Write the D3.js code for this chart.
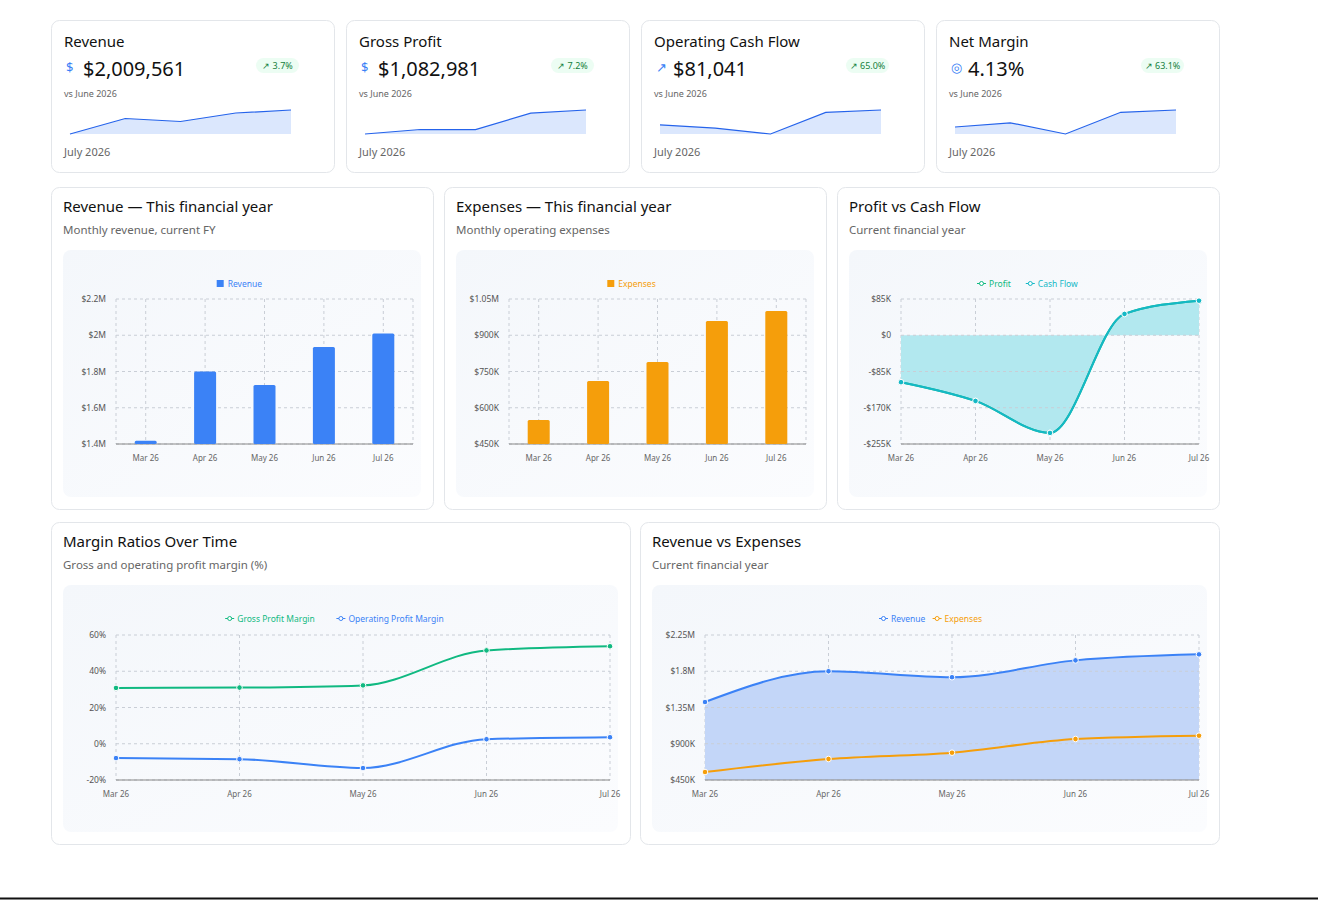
<!DOCTYPE html><html><head><meta charset="utf-8">
<script src="https://cdn.jsdelivr.net/npm/d3@7"></script>
<style>body{margin:0;background:#fff;font-family:"Noto Sans","Open Sans",sans-serif}</style></head><body>
<svg id="c" width="1318" height="900"></svg>
<script>
const months=["Mar 26","Apr 26","May 26","Jun 26","Jul 26"];
const revenue=[1418000,1800000,1726000,1935000,2009561];
const expenses=[549000,711000,789000,959000,1000000];
const cashFlow=[-110000,-154000,-229000,50000,81041];
const profit=[-110000,-154000,-229000,50000,81041];
const grossMargin=[30.8,31.0,32.2,51.5,53.8];
const opMargin=[-7.9,-8.5,-13.4,2.5,3.6];
const grossProfit=[437000,558000,556000,997000,1082981];
const netMargin=[-8,-5,-13,2.5,4.13];
const revTicks=["$1.4M","$1.6M","$1.8M","$2M","$2.2M"];
const expTicks=["$450K","$600K","$750K","$900K","$1.05M"];
const cfTicks=["-$255K","-$170K","-$85K","$0","$85K"];
const marTicks=["-20%","0%","20%","40%","60%"];
const rveTicks=["$450K","$900K","$1.35M","$1.8M","$2.25M"];
const kpis=[
 {t:"Revenue",v:"$2,009,561",ch:"3.7%",icon:"$",data:revenue},
 {t:"Gross Profit",v:"$1,082,981",ch:"7.2%",icon:"$",data:grossProfit},
 {t:"Operating Cash Flow",v:"$81,041",ch:"65.0%",icon:"↗",data:cashFlow},
 {t:"Net Margin",v:"4.13%",ch:"63.1%",icon:"◎",data:netMargin}];
const svg=d3.select("#c");
const defs=svg.append("defs");
const lg=defs.append("linearGradient").attr("id","pbg").attr("x1",0).attr("y1",0).attr("x2",1).attr("y2",1);
lg.append("stop").attr("offset","0").attr("stop-color","#f4f7fb");lg.append("stop").attr("offset","1").attr("stop-color","#fbfcfe");
svg.append("line").attr("x1",0).attr("x2",1318).attr("y1",898.5).attr("y2",898.5).attr("stroke","#111").attr("stroke-width",2);
function card(x,y,w,h){svg.append("rect").attr("x",x+.5).attr("y",y+.5).attr("width",w).attr("height",h).attr("rx",8).attr("fill","#fff").attr("stroke","#e3e6ea");}
kpis.forEach((k,i)=>{const x=51+i*295,y=20;card(x,y,283,152);
 const g=svg.append("g").attr("transform",`translate(${x},${y})`);
 g.append("text").attr("x",13).attr("y",27).attr("font-size",15).attr("font-weight",400).attr("fill","#111").text(k.t);
 g.append("text").attr("x",15).attr("y",52).attr("font-size",13).attr("fill","#3b82f6").text(k.icon);
 g.append("text").attr("x",32).attr("y",56).attr("font-size",20).attr("font-weight",400).attr("fill","#111").text(k.v);
 g.append("rect").attr("x",205).attr("y",38).attr("width",43).attr("height",15).attr("rx",7.5).attr("fill","#ecfdf3");
 g.append("text").attr("x",226.5).attr("y",49).attr("text-anchor","middle").attr("font-size",9).attr("fill","#15803d").text("↗ "+k.ch);
 g.append("text").attr("x",13).attr("y",77).attr("font-size",9).attr("fill","#666").text("vs June 2026");
 g.append("text").attr("x",13).attr("y",136).attr("font-size",11).attr("fill","#666").text("July 2026");
 const sx=d3.scalePoint().domain(months).range([19,240]);
 const sy=d3.scaleLinear().domain(d3.extent(k.data)).range([114,90]);
 g.append("path").datum(k.data).attr("fill","#dbe7fd").attr("d",d3.area().x((d,j)=>sx(months[j])).y0(114).y1(d=>sy(d)));
 g.append("path").datum(k.data).attr("fill","none").attr("stroke","#2563eb").attr("stroke-width",1.2).attr("d",d3.line().x((d,j)=>sx(months[j])).y(d=>sy(d)));
});
function panel(x,y,w,h,title,sub){card(x,y,w,h);
 svg.append("text").attr("x",x+12).attr("y",y+25).attr("font-size",15).attr("font-weight",400).attr("fill","#111").text(title);
 svg.append("text").attr("x",x+12).attr("y",y+47).attr("font-size",11.5).attr("fill","#666").text(sub);
 svg.append("rect").attr("x",x+12).attr("y",y+63).attr("width",w-24).attr("height",h-75).attr("rx",8).attr("fill","url(#pbg)");}
function axes(g,x,y,ticks,domain,plot){
 const tv=d3.range(5).map(i=>domain[0]+i*(domain[1]-domain[0])/4);
 g.selectAll(".gy").data(tv).join("line").attr("x1",plot.l).attr("x2",plot.r).attr("y1",d=>y(d)).attr("y2",d=>y(d)).attr("stroke","#c9ced6").attr("stroke-dasharray","3,3");
 g.selectAll(".ty").data(tv).join("text").attr("x",plot.l-10).attr("y",d=>y(d)+3).attr("text-anchor","end").attr("font-size",8.5).attr("fill","#555").text((d,i)=>ticks[i]);
 g.append("line").attr("x1",plot.l).attr("x2",plot.r).attr("y1",plot.b).attr("y2",plot.b).attr("stroke","#888");
}
function legend(g,cx,y,items,sq){let tot=items.reduce((s,it)=>s+it.n.length*4.8+ (sq?12:14),0)+6*(items.length-1);let x=cx-tot/2;
 items.forEach(it=>{if(sq)g.append("rect").attr("x",x).attr("y",y-6).attr("width",7).attr("height",7).attr("fill",it.c);
 else{g.append("line").attr("x1",x).attr("x2",x+9).attr("y1",y-2.5).attr("y2",y-2.5).attr("stroke",it.c);g.append("circle").attr("cx",x+4.5).attr("cy",y-2.5).attr("r",2).attr("fill","#fff").attr("stroke",it.c);}
 x+=sq?11:12;g.append("text").attr("x",x).attr("y",y+1).attr("font-size",8.5).attr("fill",it.c).text(it.n);x+=it.n.length*4.8+8;});}
function barChart(x0,title,sub,data,dom,ticks,color,name){panel(x0,187,382,322,title,sub);
 const g=svg.append("g");const plot={l:x0+65,r:x0+362,t:299,b:444};
 const y=d3.scaleLinear().domain(dom).range([plot.b,plot.t]);
 const xp=d3.scalePoint().domain(months).range([plot.l+29.7,plot.r-29.7]);
 const bw=22;
 g.selectAll(".gx").data(months).join("line").attr("x1",d=>xp(d)).attr("x2",d=>xp(d)).attr("y1",plot.t).attr("y2",plot.b).attr("stroke","#c9ced6").attr("stroke-dasharray","3,3");
 g.append("line").attr("x1",plot.l).attr("x2",plot.l).attr("y1",plot.t).attr("y2",plot.b).attr("stroke","#c9ced6").attr("stroke-dasharray","3,3");
 g.append("line").attr("x1",plot.r).attr("x2",plot.r).attr("y1",plot.t).attr("y2",plot.b).attr("stroke","#c9ced6").attr("stroke-dasharray","3,3");
 axes(g,xp,y,ticks,dom,plot);
 g.selectAll(".b").data(data).join("rect").attr("x",(d,i)=>xp(months[i])-bw/2).attr("width",bw).attr("y",d=>y(d)).attr("height",d=>plot.b-y(d)).attr("fill",color).attr("rx",1.5);
 g.selectAll(".tx").data(months).join("text").attr("x",d=>xp(d)).attr("y",plot.b+17).attr("text-anchor","middle").attr("font-size",8).attr("fill","#666").text(d=>d);
 legend(g,(plot.l+plot.r)/2-25,286,[{n:name,c:color}],true);}
barChart(51,"Revenue — This financial year","Monthly revenue, current FY",revenue,[1400000,2200000],revTicks,"#3b82f6","Revenue");
barChart(444,"Expenses — This financial year","Monthly operating expenses",expenses,[450000,1050000],expTicks,"#f59e0b","Expenses");
function lineChart(x0,y0,w,title,sub,plot,dom,ticks,series,legendItems,areaFn){panel(x0,y0,w,322,title,sub);
 const g=svg.append("g");const y=d3.scaleLinear().domain(dom).range([plot.b,plot.t]);
 const x=d3.scalePoint().domain(months).range([plot.l,plot.r]);
 g.selectAll(".gx").data(months).join("line").attr("x1",d=>x(d)).attr("x2",d=>x(d)).attr("y1",plot.t).attr("y2",plot.b).attr("stroke","#c9ced6").attr("stroke-dasharray","3,3");
 if(areaFn)areaFn(g,x,y);
 axes(g,x,y,ticks,dom,plot);
 g.selectAll(".tx").data(months).join("text").attr("x",d=>x(d)).attr("y",plot.b+17).attr("text-anchor","middle").attr("font-size",8).attr("fill","#666").text(d=>d);
 series.forEach(s=>{g.append("path").datum(s.d).attr("fill","none").attr("stroke",s.c).attr("stroke-width",2).attr("d",d3.line().curve(d3.curveMonotoneX).x((d,i)=>x(months[i])).y(d=>y(d)));
  g.selectAll(null).data(s.d).join("circle").attr("cx",(d,i)=>x(months[i])).attr("cy",d=>y(d)).attr("r",2.8).attr("fill",s.c).attr("stroke","#fff").attr("stroke-width",1);});
 legend(g,(plot.l+plot.r)/2-20,286+(y0-187),legendItems,false);}
lineChart(837,187,382,"Profit vs Cash Flow","Current financial year",{l:901,r:1199,t:299,b:444},[-255000,85000],cfTicks,
 [{d:profit,c:"#10b981"},{d:cashFlow,c:"#14b8c6"}],[{n:"Profit",c:"#10b981"},{n:"Cash Flow",c:"#14b8c6"}],
 (g,x,y)=>g.append("path").datum(cashFlow).attr("fill","#b2e8ef").attr("d",d3.area().curve(d3.curveMonotoneX).x((d,i)=>x(months[i])).y0(y(0)).y1(d=>y(d))));
lineChart(51,522,579,"Margin Ratios Over Time","Gross and operating profit margin (%)",{l:116,r:610,t:635,b:780},[-20,60],marTicks,
 [{d:grossMargin,c:"#10b981"},{d:opMargin,c:"#3b82f6"}],[{n:"Gross Profit Margin",c:"#10b981"},{n:"Operating Profit Margin",c:"#3b82f6"}]);
lineChart(640,522,579,"Revenue vs Expenses","Current financial year",{l:705,r:1199,t:635,b:780},[450000,2250000],rveTicks,
 [{d:revenue,c:"#3b82f6"},{d:expenses,c:"#f59e0b"}],[{n:"Revenue",c:"#3b82f6"},{n:"Expenses",c:"#f59e0b"}],
 (g,x,y)=>g.append("path").datum(revenue).attr("fill","#c3d6f8").attr("d",d3.area().curve(d3.curveMonotoneX).x((d,i)=>x(months[i])).y0(y(450000)).y1(d=>y(d))));
</script></body></html>
